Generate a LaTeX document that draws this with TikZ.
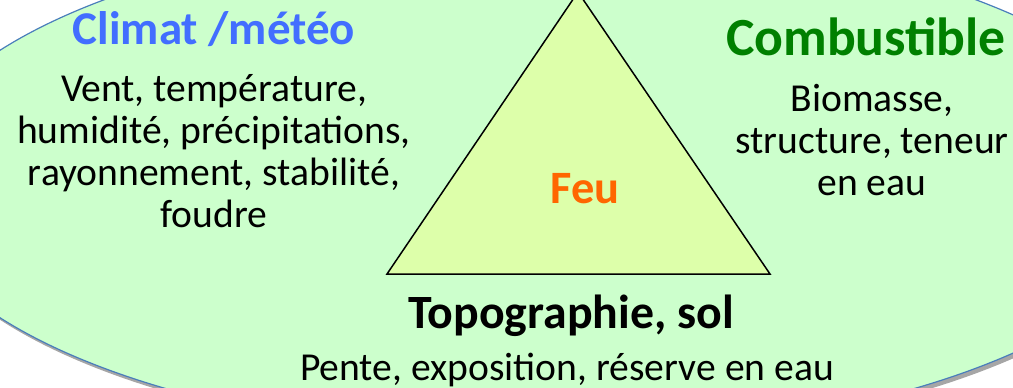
\documentclass[tikz,border=0pt]{standalone}
\usepackage{fontspec}
\setmainfont{Carlito}
\usetikzlibrary{positioning}
\definecolor{plainfill}{HTML}{CCFFCC}
\definecolor{plainedge}{HTML}{4A7EBB}
\definecolor{firefill}{HTML}{DDFFAA}
\definecolor{climblue}{HTML}{426EFF}
\definecolor{fuelgreen}{HTML}{008000}
\definecolor{fireorange}{HTML}{FF6600}
\tikzset{
x=1pt, y=-1pt,
title/.style={font=\bfseries\fontsize{47}{50}\selectfont, anchor=base, inner sep=0pt}, % factor names
body/.style={font=\fontsize{39.6}{41.7}\selectfont, align=center, anchor=base, inner sep=0pt}, % factor details
}
\begin{document}
\begin{tikzpicture}
    \useasboundingbox (0,0) rectangle (1013,388);
    \clip (0,0) rectangle (1013,388);

    % background ellipse with its shadow
    \fill[gray!70] (543,188) ellipse [x radius=636, y radius=253];
    \draw[plainedge, fill=plainfill, line width=1.2pt] (540,184) ellipse [x radius=636, y radius=253];

    % fire triangle
    \coordinate (top) at (578,-8);
    \coordinate (left) at (387,274);
    \coordinate (right) at (770,274);
    \draw[fill=firefill, line width=1.5pt, line join=miter] (top) -- (left) -- (right) -- cycle;

    \node[title, text=fireorange, font=\bfseries\fontsize{46.4}{48}\selectfont] (feu) at (585,203) {Feu};

    \node[title, text=climblue] (climat) at (214,44) {Climat /météo};
    \node[body] (climatdet) at (214,227) {Vent, température,\\humidité, précipitations,\\rayonnement, stabilité,\\foudre};

    \node[title, text=fuelgreen, font=\bfseries\fontsize{53.7}{56}\selectfont] (combust) at (866,56) {Combustible};
    \node[body] (combustdet) at (872,195) {Biomasse,\\structure, teneur\\en eau};

    \node[title, font=\bfseries\fontsize{47.8}{50}\selectfont] (topo) at (571,328) {Topographie, sol};
    \node[body] (topodet) at (567,380) {Pente, exposition, réserve en eau};
\end{tikzpicture}
\end{document}
